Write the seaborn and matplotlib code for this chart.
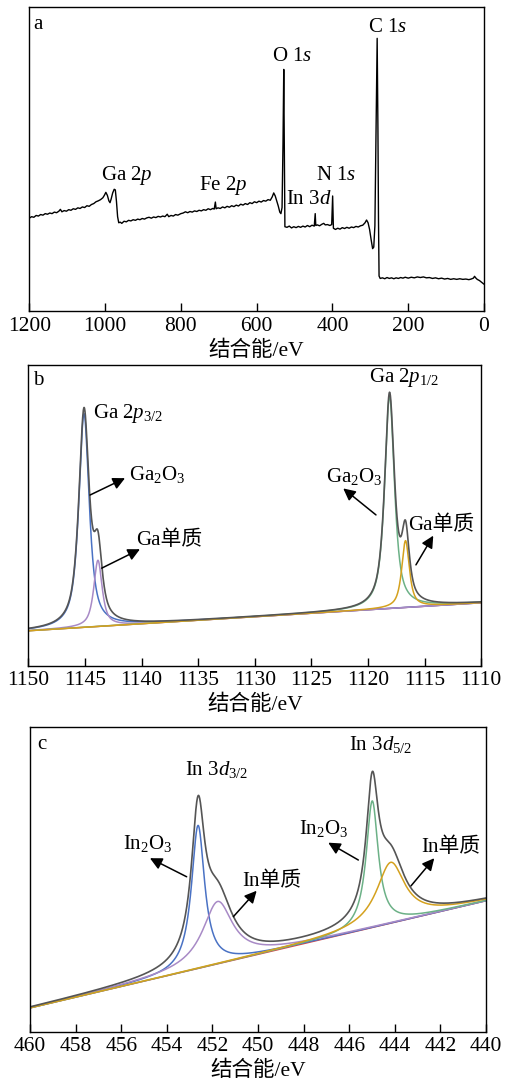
import numpy as np
import pandas as pd
import matplotlib
matplotlib.use('Agg')
import matplotlib.pyplot as plt
import seaborn as sns

# survey spectrum (a): binding energy / relative intensity
survey_be = [1200, 1194, 1188, 1182, 1176, 1170, 1164, 1158, 1152, 1146, 1140, 1134, 1128, 1122,
             1118, 1114, 1108, 1102, 1096, 1090, 1084, 1078, 1072, 1066, 1060, 1054, 1048, 1042,
             1036, 1030, 1024, 1018, 1012, 1006, 1002, 998, 994, 990, 987, 984, 980, 976, 973,
             970, 967, 964, 960, 956, 950, 944, 938, 932, 926, 920, 914, 908, 902, 896, 890, 884,
             878, 872, 866, 860, 854, 848, 842, 836, 832, 826, 820, 814, 808, 800, 794, 788, 782,
             776, 770, 764, 758, 752, 746, 740, 734, 728, 722, 716, 712, 709, 707, 702, 696, 690,
             684, 678, 672, 666, 660, 654, 648, 642, 636, 630, 624, 618, 612, 606, 600, 594, 588,
             582, 576, 570, 564, 559, 555, 551, 547, 543, 539, 536, 533, 530.5, 528.5, 527, 525.5,
             520, 514, 508, 502, 496, 490, 484, 478, 472, 466, 460, 454, 448, 445.5, 444, 440, 434,
             428, 423, 419, 413, 407, 402, 399.5, 397.5, 392, 386, 380, 374, 368, 362, 356, 350,
             344, 338, 332, 326, 320, 314, 310, 306, 302, 298, 294, 291, 288, 285, 282, 280, 278.5,
             277, 274, 268, 262, 256, 250, 244, 238, 232, 226, 220, 214, 208, 200, 192, 184, 176,
             168, 160, 152, 144, 136, 128, 120, 112, 104, 96, 88, 80, 72, 64, 56, 48, 40, 34, 28,
             25, 22, 18, 12, 6, 0]
survey_int = [0.305, 0.310, 0.308, 0.314, 0.312, 0.317, 0.315, 0.320, 0.318, 0.322, 0.320, 0.325,
              0.323, 0.328, 0.334, 0.326, 0.330, 0.328, 0.333, 0.331, 0.336, 0.334, 0.339, 0.337,
              0.342, 0.340, 0.346, 0.344, 0.350, 0.353, 0.359, 0.362, 0.366, 0.372, 0.380, 0.390,
              0.380, 0.362, 0.356, 0.368, 0.388, 0.400, 0.398, 0.360, 0.310, 0.290, 0.292, 0.288,
              0.295, 0.293, 0.298, 0.296, 0.300, 0.298, 0.302, 0.300, 0.304, 0.302, 0.306, 0.308,
              0.305, 0.309, 0.307, 0.311, 0.309, 0.312, 0.310, 0.318, 0.310, 0.314, 0.312, 0.317,
              0.315, 0.320, 0.322, 0.326, 0.323, 0.327, 0.325, 0.329, 0.327, 0.331, 0.329, 0.333,
              0.331, 0.336, 0.333, 0.337, 0.335, 0.358, 0.336, 0.339, 0.337, 0.342, 0.339, 0.344,
              0.341, 0.346, 0.343, 0.348, 0.345, 0.351, 0.348, 0.353, 0.350, 0.356, 0.353, 0.359,
              0.356, 0.361, 0.358, 0.363, 0.361, 0.366, 0.364, 0.375, 0.388, 0.378, 0.362, 0.345,
              0.325, 0.320, 0.340, 0.550, 0.794, 0.550, 0.277, 0.275, 0.279, 0.273, 0.277, 0.274,
              0.278, 0.275, 0.279, 0.276, 0.281, 0.277, 0.282, 0.279, 0.320, 0.281, 0.283, 0.280,
              0.285, 0.288, 0.283, 0.284, 0.281, 0.284, 0.378, 0.272, 0.268, 0.272, 0.269, 0.274,
              0.271, 0.275, 0.272, 0.276, 0.274, 0.278, 0.276, 0.280, 0.282, 0.290, 0.299, 0.290,
              0.268, 0.235, 0.205, 0.210, 0.280, 0.600, 0.896, 0.600, 0.300, 0.115, 0.107, 0.109,
              0.106, 0.110, 0.107, 0.109, 0.106, 0.109, 0.107, 0.110, 0.108, 0.111, 0.108, 0.111,
              0.109, 0.112, 0.110, 0.112, 0.109, 0.110, 0.107, 0.109, 0.106, 0.108, 0.105, 0.107,
              0.104, 0.106, 0.104, 0.106, 0.104, 0.105, 0.103, 0.105, 0.108, 0.114, 0.109, 0.104,
              0.100, 0.094, 0.088]

# Ga 2p (b): fitted components  (centre eV, height above background, FWHM eV, lorentz fraction)
ga_names = ['Ga2O3 3/2', 'Ga 3/2', 'Ga2O3 1/2', 'Ga 1/2']
ga_center = [1145.08, 1143.85, 1118.10, 1116.69]
ga_height = [0.710, 0.220, 0.705, 0.222]
ga_fwhm = [1.09, 0.88, 1.03, 0.80]
ga_eta = [0.8, 0.8, 0.8, 0.8]
ga_bg = [0.116, 0.209]          # background at 1150 and 1110 eV

# In 3d (c)
in_names = ['In2O3 3/2', 'In 3/2', 'In2O3 5/2', 'In 5/2']
in_center = [452.63, 451.77, 444.99, 444.18]
in_height = [0.470, 0.205, 0.416, 0.200]
in_fwhm = [0.70, 1.60, 0.64, 1.50]
in_eta = [1.0, 1.0, 1.0, 1.0]
in_bg = [0.078, 0.430]          # background at 460 and 440 eV

comp_colors = ['#4a72c4', '#a88ac6', '#6cb187', '#d4a11e']
env_color = '#555555'

sns.set_style('ticks')
plt.rcParams['font.family'] = ['Liberation Serif', 'Noto Sans CJK SC']
plt.rcParams['mathtext.fontset'] = 'custom'
plt.rcParams['mathtext.rm'] = 'Liberation Serif'
plt.rcParams['mathtext.it'] = 'Liberation Serif:italic'
plt.rcParams['axes.linewidth'] = 1.0
plt.rcParams['axes.edgecolor'] = 'black'
plt.rcParams['text.color'] = 'black'
plt.rcParams['axes.labelcolor'] = 'black'
plt.rcParams['xtick.color'] = 'black'

FS = 15.5   # ticks / axis label
LS = 15     # annotations


def pvoigt(x, c, h, w, eta):
    lor = 1.0 / (1.0 + ((x - c) / (w / 2)) ** 2)
    gau = np.exp(-4 * np.log(2) * ((x - c) / w) ** 2)
    return h * (eta * lor + (1 - eta) * gau)


def style_axes(ax, xlim, ticks):
    ax.set_xlim(xlim)
    ax.set_ylim(0, 1)
    ax.set_xticks(ticks)
    ax.set_yticks([])
    ax.tick_params(axis='x', direction='in', length=6, width=1, labelsize=FS, pad=4,
                   colors='black')
    for s in ax.spines.values():
        s.set_visible(True)
        s.set_color('black')
    ax.set_xlabel('结合能/eV', fontsize=FS, labelpad=3.5)
    ax.set_ylabel('')


def fit_panel(ax, lo, hi, bg, centers, heights, fwhms, etas):
    x = np.linspace(lo, hi, 2000)
    base = bg[0] + (x - lo) / (hi - lo) * (bg[1] - bg[0])
    total = base.copy()
    sns.lineplot(x=x, y=base, ax=ax, color='#d64545', lw=1.0, sort=False, estimator=None)
    for c, h, w, e, col in zip(centers, heights, fwhms, etas, comp_colors):
        comp = pvoigt(x, c, h, w, e)
        total = total + comp
        sns.lineplot(x=x, y=base + comp, ax=ax, color=col, lw=1.1, sort=False, estimator=None)
    sns.lineplot(x=x, y=total, ax=ax, color=env_color, lw=1.2, sort=False, estimator=None)


def arrow(ax, tail, head):
    ax.annotate('', xy=head, xytext=tail,
                arrowprops=dict(arrowstyle='-|>', color='black', lw=1.1, mutation_scale=18,
                                shrinkA=0, shrinkB=0))


fig = plt.figure(figsize=(5.08, 10.81), dpi=100)
ax1 = fig.add_axes([0.0577, 0.7123, 0.8951, 0.2815])
ax2 = fig.add_axes([0.0557, 0.3842, 0.8917, 0.2784])
ax3 = fig.add_axes([0.0591, 0.0456, 0.8976, 0.2816])

# ---- a: survey
survey = pd.DataFrame({'be': survey_be, 'cps': survey_int})
sns.lineplot(data=survey, x='be', y='cps', ax=ax1, color='black', lw=1.0, sort=False,
             estimator=None)
style_axes(ax1, (1200, 0), np.arange(0, 1201, 200))
ax1.text(0.009, 0.943, 'a', transform=ax1.transAxes, fontsize=LS, va='center')
for lab, bx, by in [('C 1$s$', 305.5, 0.933), ('O 1$s$', 558.3, 0.835),
                    ('Ga 2$p$', 1011.8, 0.444), ('Fe 2$p$', 752.6, 0.411),
                    ('In 3$d$', 523.2, 0.365), ('N 1$s$', 442.3, 0.444)]:
    ax1.text(bx, by, lab, fontsize=LS, va='center', ha='left')

# ---- b: Ga 2p
fit_panel(ax2, 1150, 1110, ga_bg, ga_center, ga_height, ga_fwhm, ga_eta)
style_axes(ax2, (1150, 1110), np.arange(1110, 1151, 5))
ax2.text(0.010, 0.949, 'b', transform=ax2.transAxes, fontsize=LS, va='center')
ax2.text(1144.29, 0.839, 'Ga 2$p_{\\mathrm{3/2}}$', fontsize=LS, va='center')
ax2.text(1119.89, 0.956, 'Ga 2$p_{\\mathrm{1/2}}$', fontsize=LS, va='center')
ax2.text(1141.08, 0.634, 'Ga$_2$O$_3$', fontsize=LS, va='center')
ax2.text(1140.49, 0.418, 'Ga单质', fontsize=LS, va='center')
ax2.text(1123.71, 0.627, 'Ga$_2$O$_3$', fontsize=LS, va='center')
ax2.text(1116.47, 0.467, 'Ga单质', fontsize=LS, va='center')
arrow(ax2, (1144.55, 0.567), (1141.46, 0.623))
arrow(ax2, (1143.52, 0.324), (1140.14, 0.387))
arrow(ax2, (1119.30, 0.501), (1122.19, 0.589))
arrow(ax2, (1115.77, 0.335), (1114.24, 0.432))

# ---- c: In 3d
fit_panel(ax3, 460, 440, in_bg, in_center, in_height, in_fwhm, in_eta)
style_axes(ax3, (460, 440), np.arange(440, 461, 2))
ax3.text(0.015, 0.945, 'c', transform=ax3.transAxes, fontsize=LS, va='center')
ax3.text(453.20, 0.860, 'In 3$d_{\\mathrm{3/2}}$', fontsize=LS, va='center')
ax3.text(445.996, 0.942, 'In 3$d_{\\mathrm{5/2}}$', fontsize=LS, va='center')
ax3.text(455.91, 0.617, 'In$_2$O$_3$', fontsize=LS, va='center')
ax3.text(450.67, 0.495, 'In单质', fontsize=LS, va='center')
ax3.text(448.19, 0.669, 'In$_2$O$_3$', fontsize=LS, va='center')
ax3.text(442.85, 0.607, 'In单质', fontsize=LS, va='center')
arrow(ax3, (453.13, 0.509), (454.74, 0.570))
arrow(ax3, (451.08, 0.378), (450.06, 0.463))
arrow(ax3, (445.60, 0.564), (446.92, 0.621))
arrow(ax3, (443.29, 0.479), (442.27, 0.570))

fig.savefig('out.png', dpi=100, facecolor='white')
